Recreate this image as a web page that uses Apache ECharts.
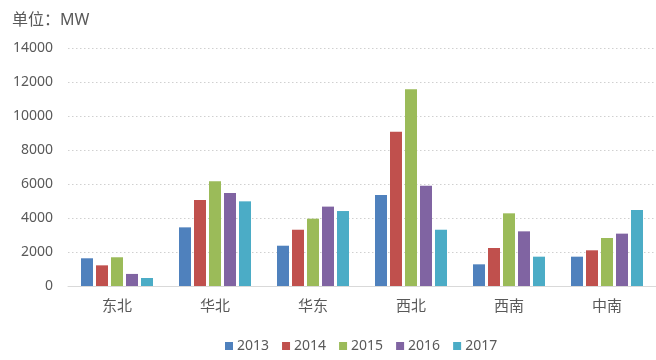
<!DOCTYPE html>
<html>
<head>
<meta charset="utf-8">
<script src="https://cdn.jsdelivr.net/npm/echarts@6/dist/echarts.min.js"></script>
<style>html,body{margin:0;padding:0;background:#fff;}#c{width:656px;height:360px;}</style>
</head>
<body>
<div id="c"></div>
<script>
const categories = ['东北', '华北', '华东', '西北', '西南', '中南'];
const years = ['2013', '2014', '2015', '2016', '2017'];
const v2013 = [1630, 3450, 2370, 5350, 1275, 1725];
const v2014 = [1215, 5060, 3310, 9080, 2235, 2100];
const v2015 = [1690, 6160, 3960, 11570, 4275, 2825];
const v2016 = [710, 5470, 4670, 5900, 3215, 3080];
const v2017 = [470, 4980, 4410, 3310, 1725, 4470];
const colors = ['#4F81BD', '#C0504D', '#9BBB59', '#8064A2', '#4BACC6'];
const allValues = [v2013, v2014, v2015, v2016, v2017];

const font = 'Noto Sans, Noto Sans CJK SC, sans-serif';
const chart = echarts.init(document.getElementById('c'));
chart.setOption({
  animation: false,
  color: colors,
  title: {
    text: '单位：MW', left: 7, top: 7,
    textStyle: { fontSize: 16, fontWeight: 'normal', color: '#595959', fontFamily: font }
  },
  legend: {
    data: years, left: 220, top: 334, itemWidth: 8, itemHeight: 8, itemGap: 13,
    icon: 'rect',
    textStyle: { fontSize: 14, color: '#595959', fontFamily: font, padding: [0, 0, 0, -1] }
  },
  grid: { left: 68, right: -6.5, top: 48, bottom: 74, containLabel: false },
  xAxis: {
    type: 'category', data: categories,
    axisLine: { lineStyle: { color: '#d9d9d9' } },
    axisTick: { show: false },
    axisLabel: { fontSize: 15, color: '#595959', margin: 13, fontFamily: font }
  },
  yAxis: {
    type: 'value', min: 0, max: 14000, interval: 2000,
    axisLine: { show: false }, axisTick: { show: false },
    axisLabel: { fontSize: 14, color: '#595959', margin: 15, fontFamily: font, formatter: v => String(v) },
    splitLine: { lineStyle: { color: '#d0d0d0', type: [1.5, 2.5], width: 1 } }
  },
  series: years.map((y, i) => ({
    name: y, type: 'bar', data: allValues[i], barWidth: 12, barGap: '25%'
  }))
});
</script>
</body>
</html>
